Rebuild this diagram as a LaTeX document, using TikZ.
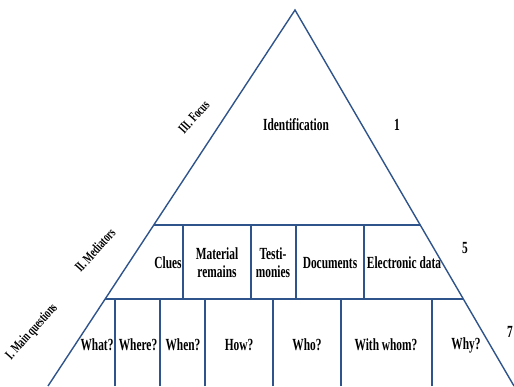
\documentclass[tikz,border=0pt]{standalone}
\usepackage{fontspec}
\setmainfont[FakeStretch=0.67]{Liberation Serif}
\usetikzlibrary{calc,positioning}
\definecolor{edgeblue}{RGB}{47,84,140}

\begin{document}
\begin{tikzpicture}[
                    x=1pt, y=1pt,
                    edge/.style={draw=edgeblue, line width=1.4pt},
                    cell/.style={font=\fontsize{17}{18}\selectfont\bfseries, align=center, inner sep=0pt},
                    side/.style={font=\fontsize{14}{15}\selectfont\bfseries, rotate=48, inner sep=0pt}
                ]
                    \useasboundingbox (0,0) rectangle (514,386);
                    \coordinate (apex) at (295,376);
                    \coordinate (bl) at (48,0);
                    \coordinate (br) at (514,0);
                    \coordinate (ml) at ($(apex)!0.572!(bl)$);
                    \coordinate (mr) at ($(apex)!0.572!(br)$);
                    \coordinate (ql) at ($(apex)!0.769!(bl)$);
                    \coordinate (qr) at ($(apex)!0.769!(br)$);
                    \draw[edge] (bl) -- (apex) -- (br);
                    \draw[edge] (ml) -- (mr);
                    \draw[edge] (ql) -- (qr);
                    \foreach \x in {183,251,296,364} \draw[edge] (\x,87) -- (\x,161);
                    \foreach \x in {115,160,205,273,341,432} \draw[edge] (\x,0) -- (\x,87);

                    \node[cell] (ident) at (296,261) {Identification};
                    \node[cell] (n1) at (397,261) {1};
                    \node[cell] (n5) at (465,138) {5};
                    \node[cell] (n7) at (510,54) {7};

                    \node[cell] (clues) at (168,123) {Clues};
                    \node[cell] (material) at (217,123) {Material\\remains};
                    \node[cell] (testi) at (273,123) {Testi-\\monies};
                    \node[cell] (docs) at (330,123) {Documents};
                    \node[cell] (edata) at (404,123) {Electronic data};

                    \node[cell] (what) at (97,41) {What?};
                    \node[cell] (where) at (138,41) {Where?};
                    \node[cell] (when) at (183,41) {When?};
                    \node[cell] (how) at (239,41) {How?};
                    \node[cell] (who) at (307,41) {Who?};
                    \node[cell] (whom) at (386,41) {With whom?};
                    \node[cell] (why) at (466,41) {Why?};

                    \node[side] (focus) at (194,269) {III. Focus};
                    \node[side] (mediators) at (95,136) {II. Mediators};
                    \node[side] (questions) at (32,54) {I. Main questions};
                \end{tikzpicture}
\end{document}
